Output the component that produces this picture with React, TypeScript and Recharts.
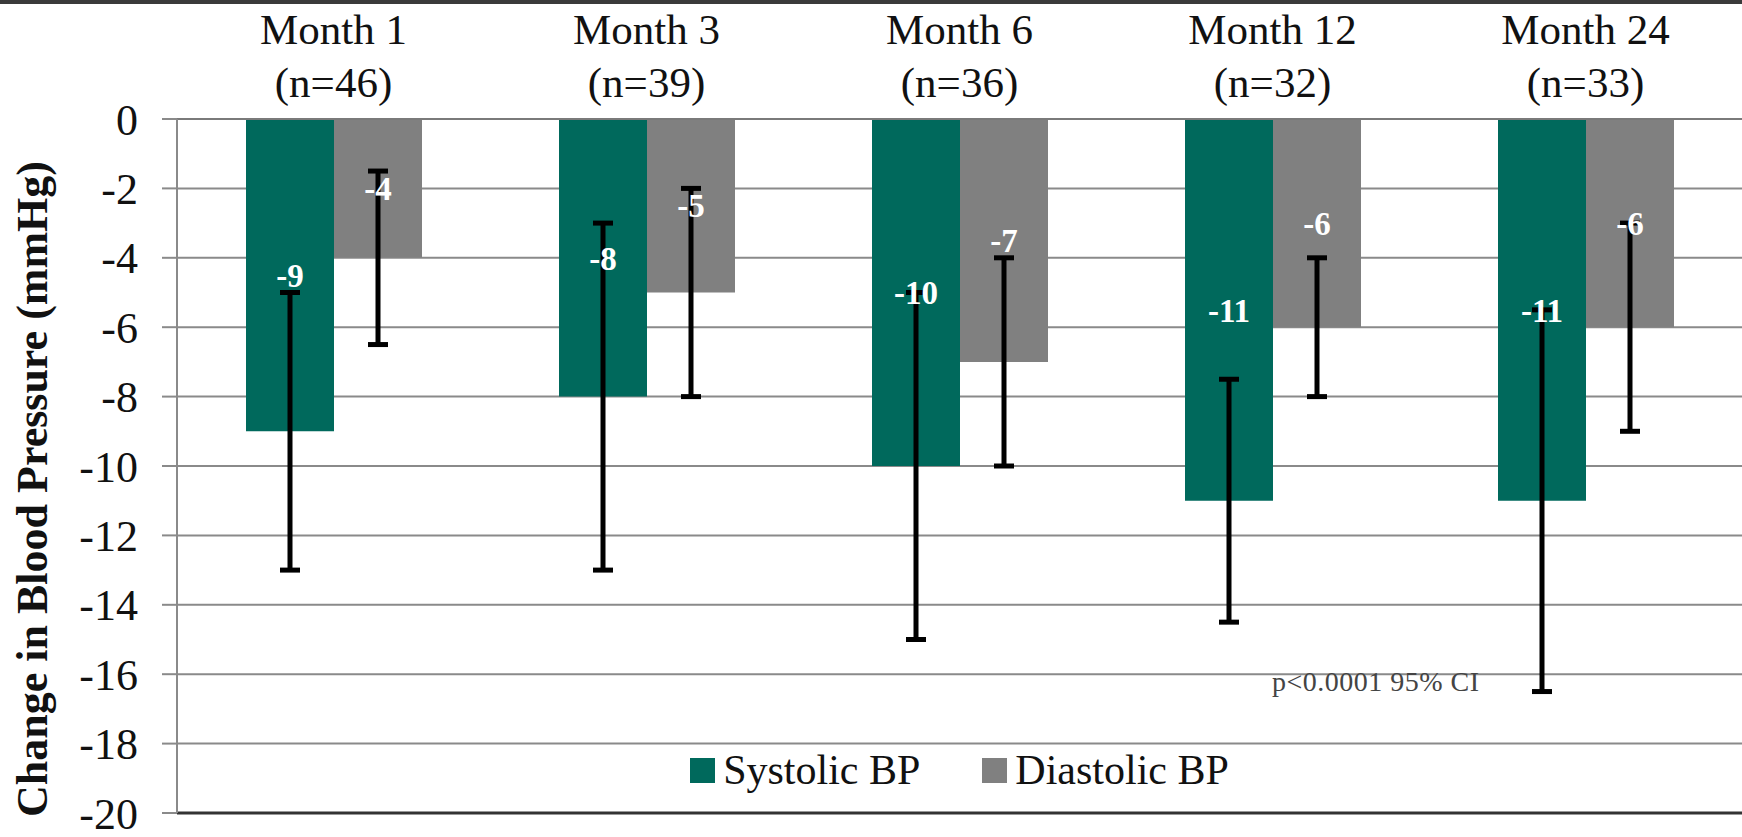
import React from 'react';
import { BarChart, Bar, XAxis, YAxis, CartesianGrid, ErrorBar, LabelList, Legend, ReferenceLine } from 'recharts';

const MONTHS = ['Month 1', 'Month 3', 'Month 6', 'Month 12', 'Month 24'];
const PATIENTS = [46, 39, 36, 32, 33];

const SYSTOLIC = [-9, -8, -10, -11, -11];
const SYSTOLIC_CI_LOW = [-13, -13, -15, -14.5, -16.5];
const SYSTOLIC_CI_HIGH = [-5, -3, -5, -7.5, -5.5];

const DIASTOLIC = [-4, -5, -7, -6, -6];
const DIASTOLIC_CI_LOW = [-6.5, -8, -10, -8, -9];
const DIASTOLIC_CI_HIGH = [-1.5, -2, -4, -4, -3];

const Y_TICKS = [0, -2, -4, -6, -8, -10, -12, -14, -16, -18, -20];
const SERIES_ORDER = ['Systolic BP', 'Diastolic BP'];

const SERIF = '"Liberation Serif", "Times New Roman", serif';
const TEAL = '#00695c';
const GREY = '#808080';
const GRID = '#8a8a8a';

// recharts wants [below, above] distances from the bar value
const data = MONTHS.map((month, i) => ({
  month,
  systolic: SYSTOLIC[i],
  systolicErr: [SYSTOLIC[i] - SYSTOLIC_CI_LOW[i], SYSTOLIC_CI_HIGH[i] - SYSTOLIC[i]],
  diastolic: DIASTOLIC[i],
  diastolicErr: [DIASTOLIC[i] - DIASTOLIC_CI_LOW[i], DIASTOLIC_CI_HIGH[i] - DIASTOLIC[i]],
}));

const MonthTick = (props: any) => {
  const { x, y, payload } = props;
  const n = PATIENTS[MONTHS.indexOf(payload.value)];
  return (
    <g>
      <text x={x} y={y - 75} textAnchor="middle" fontFamily={SERIF} fontSize={43} fill="#111">
        {payload.value}
      </text>
      <text x={x} y={y - 22} textAnchor="middle" fontFamily={SERIF} fontSize={43} fill="#111">
        (n={n})
      </text>
    </g>
  );
};

const renderLegend = (props: any) => {
  const items = [...(props.payload || [])].sort(
    (a: any, b: any) => SERIES_ORDER.indexOf(a.value) - SERIES_ORDER.indexOf(b.value)
  );
  return (
    <div style={{ display: 'flex', justifyContent: 'center', gap: 62, fontFamily: SERIF, fontSize: 42, color: '#111' }}>
      {items.map((item: any) => (
        <div key={item.value} style={{ display: 'flex', alignItems: 'center', gap: 8 }}>
          <div style={{ width: 25, height: 25, background: item.color }} />
          <span style={{ lineHeight: '48px' }}>{item.value}</span>
        </div>
      ))}
    </div>
  );
};

const App: React.FC = () => {
  return (
    <div style={{ position: 'absolute', top: 0, left: 0, width: 1742, height: 837, background: '#fff', overflow: 'hidden' }}>
      <div style={{ position: 'absolute', top: 0, left: 0, width: 1742, height: 4, background: '#3a3a3a' }} />
      <BarChart
        width={1742}
        height={837}
        data={data}
        margin={{ top: 0, right: 0, bottom: 24, left: 0 }}
        barGap={0}
        barSize={88}
      >
        <CartesianGrid vertical={false} stroke={GRID} strokeWidth={2} />
        <XAxis
          dataKey="month"
          orientation="top"
          height={119}
          tickLine={false}
          tickSize={0}
          tickMargin={0}
          axisLine={{ stroke: '#7a7a7a', strokeWidth: 2 }}
          tick={<MonthTick />}
          interval={0}
        />
        <YAxis
          width={177}
          domain={[-20, 0]}
          ticks={Y_TICKS}
          interval={0}
          tickSize={15}
          tickMargin={24}
          axisLine={{ stroke: GRID, strokeWidth: 2 }}
          tickLine={{ stroke: GRID, strokeWidth: 2 }}
          tick={{ fontFamily: SERIF, fontSize: 44, fill: '#111' }}
          label={() => (
            <text
              x={47}
              y={489}
              transform="rotate(-90, 47, 489)"
              textAnchor="middle"
              fontFamily={SERIF}
              fontSize={44}
              fontWeight="bold"
              fill="#111"
            >
              Change in Blood Pressure (mmHg)
            </text>
          )}
        />
        <ReferenceLine y={-20} stroke="#333" strokeWidth={3} />
        <Legend
          layout="horizontal"
          verticalAlign="middle"
          align="center"
          content={renderLegend}
          wrapperStyle={{ position: 'absolute', top: 746, left: 177, width: 1565 }}
        />
        <Bar dataKey="systolic" name="Systolic BP" fill={TEAL} isAnimationActive={false}>
          <ErrorBar dataKey="systolicErr" width={10} stroke="#000" strokeWidth={5} direction="y" />
          <LabelList dataKey="systolic" position="center" fill="#fff" fontFamily={SERIF} fontSize={33} fontWeight="bold" />
        </Bar>
        <Bar dataKey="diastolic" name="Diastolic BP" fill={GREY} isAnimationActive={false}>
          <ErrorBar dataKey="diastolicErr" width={10} stroke="#000" strokeWidth={5} direction="y" />
          <LabelList dataKey="diastolic" position="center" fill="#fff" fontFamily={SERIF} fontSize={33} fontWeight="bold" />
        </Bar>
      </BarChart>
      <div
        style={{
          position: 'absolute',
          left: 1272,
          top: 668,
          fontFamily: SERIF,
          fontSize: 28,
          lineHeight: '28px',
          color: '#444',
          letterSpacing: 0.5,
          whiteSpace: 'nowrap',
        }}
      >
        p&lt;0.0001 95% CI
      </div>
    </div>
  );
};

export default App;
